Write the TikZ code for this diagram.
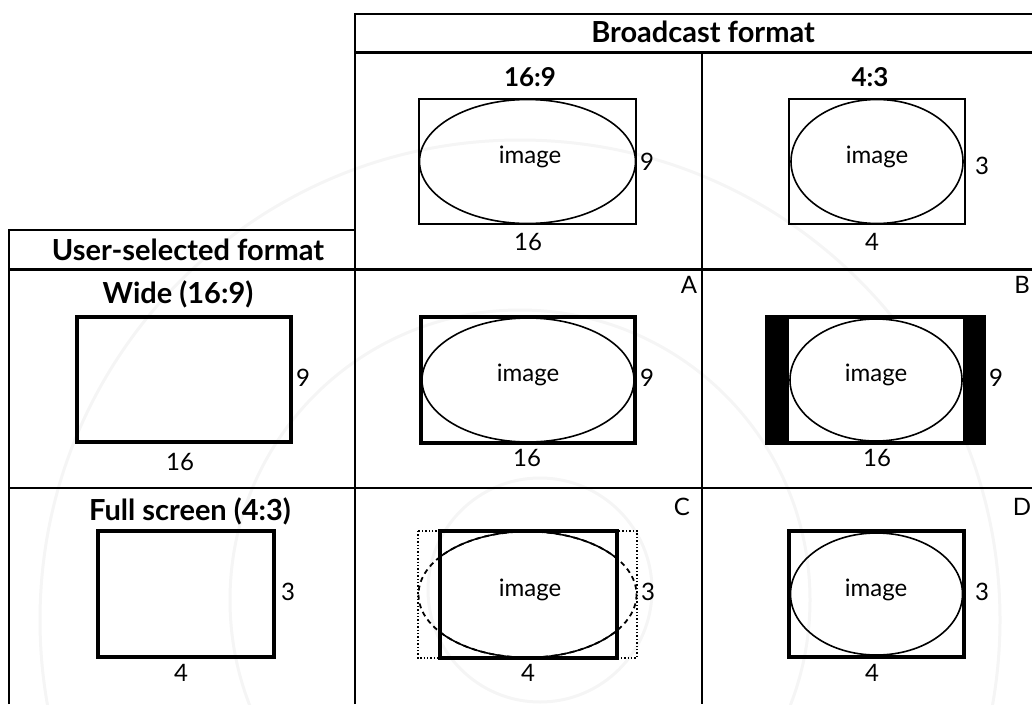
\documentclass[tikz,border=0pt]{standalone}
\usepackage{fontspec}
\setmainfont{Lato}
\begin{document}
\begin{tikzpicture}[x=1pt,y=-1pt,
  gridline/.style={line width=2.4pt},
  gridbold/.style={line width=3pt},
  framethin/.style={line width=1.4pt},
  framethick/.style={line width=4pt},
  ovalline/.style={line width=1.6pt},
  wm/.style={draw=black!4,line width=3pt},
  lbl/.style={font=\fontsize{24}{26}\selectfont, inner sep=0pt},
  hdr/.style={font=\bfseries\fontsize{29}{31}\selectfont, inner sep=0pt},
  hdrnum/.style={font=\bfseries\fontsize{26}{28}\selectfont, inner sep=0pt}]
\useasboundingbox (0,0) rectangle (1032,704);
% faint watermark
\draw[wm] (540,590) circle (112);
\draw[wm] (520,600) circle (290);
\draw[wm] (520,620) circle (480);
% table grid
\draw[gridline] (355,704) -- (355,14) -- (1032,14);
\draw[gridbold] (355,52) -- (1032,52);
\draw[gridline] (702,52) -- (702,704);
\draw[gridline] (9,704) -- (9,230) -- (355,230);
\draw[gridbold] (9,269) -- (1032,269);
\draw[gridline] (9,488) -- (1032,488);
% headers
\node[hdr] (bc) at (703,32) {Broadcast format};
\node[hdr] (usf) at (188,250) {User-selected format};
\node[hdrnum] (h169) at (530,77) {16:9};
\node[hdrnum] (h43) at (870,77) {4:3};
\node[hdr] (wide) at (178,294) {Wide (16:9)};
\node[hdr] (full) at (190,511) {Full screen (4:3)};
% broadcast 16:9
\draw[framethin] (419,99) rectangle (636,224);
\draw[ovalline] (527.5,161.5) ellipse (108 and 62);
\node[lbl] (im1) at (530,157) {image};
\node[lbl] (n1a) at (647,162) {9};
\node[lbl] (n1b) at (528,242) {16};
% broadcast 4:3
\draw[framethin] (789,99) rectangle (965,224);
\draw[ovalline] (877,161.5) ellipse (86 and 62);
\node[lbl] (im2) at (877,157) {image};
\node[lbl] (n2a) at (982,166) {3};
\node[lbl] (n2b) at (872,242) {4};
% wide
\draw[framethick] (77,317) rectangle (291,442);
\node[lbl] (n3a) at (303,378) {9};
\node[lbl] (n3b) at (180,462) {16};
% A
\draw[framethick] (421,317) rectangle (635,443);
\draw[ovalline] (528,380) ellipse (106 and 62);
\node[lbl] (im3) at (528,375) {image};
\node[lbl] (n4a) at (647,378) {9};
\node[lbl] (n4b) at (527,458) {16};
\node[lbl] (la) at (689,285) {A};
% B
\fill (765,315) rectangle (986,445);
\fill[white] (789,319) rectangle (963,441);
\draw[ovalline] (876,380) ellipse (86 and 61);
\node[lbl] (im4) at (876,375) {image};
\node[lbl] (n5a) at (996,378) {9};
\node[lbl] (n5b) at (877,458) {16};
\node[lbl] (lb) at (1022,285) {B};
% full screen
\draw[framethick] (98,531) rectangle (274,657);
\node[lbl] (n6a) at (288,592) {3};
\node[lbl] (n6b) at (181,673) {4};
% C
\draw[line width=1.4pt, dotted] (418,531) rectangle (637,658);
\draw[line width=1.8pt, dash pattern=on 5pt off 4pt] (527.5,594.5) ellipse (109 and 63);
\begin{scope}
  \clip (440,531) rectangle (617,658);
  \draw[ovalline] (527.5,594.5) ellipse (109 and 63);
\end{scope}
\draw[framethick] (440,531) rectangle (617,658);
\node[lbl] (im5) at (530,590) {image};
\node[lbl] (n7a) at (648,592) {3};
\node[lbl] (n7b) at (528,673) {4};
\node[lbl] (lc) at (682,507) {C};
% D
\draw[framethick] (789,531) rectangle (964,657);
\draw[ovalline] (876.5,594) ellipse (86 and 61);
\node[lbl] (im6) at (876,590) {image};
\node[lbl] (n8a) at (982,592) {3};
\node[lbl] (n8b) at (872,673) {4};
\node[lbl] (ld) at (1022,507) {D};
\end{tikzpicture}
\end{document}
